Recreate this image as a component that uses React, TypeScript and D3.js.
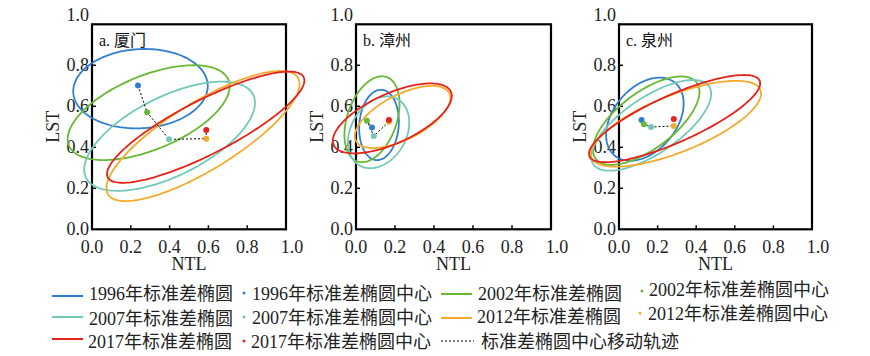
import React from "react";
import * as d3 from "d3";

const W = 870;
const H = 356;

const years = ["1996", "2002", "2007", "2012", "2017"];
const colors = ["#2f7fd0", "#68b834", "#72c9b8", "#f4aa2c", "#e5231b"];
const panelTitles = ["a. 厦门", "b. 漳州", "c. 泉州"];
const tickValues = [0, 0.2, 0.4, 0.6, 0.8, 1.0];

// mean centers [NTL, LST] per year
const xiamenCenters = [[0.237, 0.701], [0.284, 0.571], [0.397, 0.439], [0.589, 0.442], [0.589, 0.485]];
const zhangzhouCenters = [[0.082, 0.496], [0.056, 0.530], [0.091, 0.455], [0.169, 0.525], [0.169, 0.533]];
const quanzhouCenters = [[0.117, 0.533], [0.129, 0.512], [0.166, 0.499], [0.284, 0.504], [0.284, 0.538]];

// standard deviational ellipses: [cx, cy, semi-major, semi-minor, angle deg]
const xiamenEllipses = [
  [0.25, 0.686, 0.347, 0.193, 3],
  [0.292, 0.569, 0.441, 0.182, 20.8],
  [0.4, 0.454, 0.476, 0.195, 24.7],
  [0.572, 0.455, 0.566, 0.167, 29.9],
  [0.586, 0.498, 0.561, 0.133, 25.7],
];
const zhangzhouEllipses = [
  [0.118, 0.509, 0.172, 0.101, 85],
  [0.082, 0.537, 0.219, 0.126, 69.1],
  [0.116, 0.473, 0.189, 0.14, 55.8],
  [0.239, 0.548, 0.266, 0.11, 25.5],
  [0.186, 0.541, 0.3275, 0.122, 23.1],
];
const quanzhouEllipses = [
  [0.134, 0.537, 0.237, 0.159, 45.7],
  [0.141, 0.53, 0.321, 0.14, 34.6],
  [0.167, 0.507, 0.355, 0.139, 31.8],
  [0.295, 0.515, 0.468, 0.14, 20.4],
  [0.288, 0.54, 0.478, 0.116, 22.6],
];

const panels = [
  { title: panelTitles[0], centers: xiamenCenters, ellipses: xiamenEllipses, x0: 92, x1: 286 },
  { title: panelTitles[1], centers: zhangzhouCenters, ellipses: zhangzhouEllipses, x0: 356, x1: 551 },
  { title: panelTitles[2], centers: quanzhouCenters, ellipses: quanzhouEllipses, x0: 619, x1: 812 },
];

const Y0 = 229.3;
const Y1 = 24.3;
const SERIF = "'Liberation Serif', 'Times New Roman', 'Noto Sans CJK SC', serif";

function ellipsePoints(e: number[]) {
  const [cx, cy, a, b, deg] = e;
  const th = (deg * Math.PI) / 180;
  return d3.range(0, 180).map((i) => {
    const t = (i / 180) * 2 * Math.PI;
    const ex = a * Math.cos(t);
    const ey = b * Math.sin(t);
    return [cx + ex * Math.cos(th) - ey * Math.sin(th), cy + ex * Math.sin(th) + ey * Math.cos(th)];
  });
}

function Panel({ p }: { p: any }) {
  const xs = d3.scaleLinear().domain([0, 1]).range([p.x0, p.x1]);
  const ys = d3.scaleLinear().domain([0, 1]).range([Y0, Y1]);
  const line = d3
    .line<number[]>()
    .x((d) => xs(d[0]))
    .y((d) => ys(d[1]))
    .curve(d3.curveLinearClosed);
  const traj = d3
    .line<number[]>()
    .x((d) => xs(d[0]))
    .y((d) => ys(d[1]));
  return (
    <g>
      {tickValues.map((v) => (
        <text
          key={"xl" + v}
          x={xs(v) + (v === 1 ? 6 : 0)}
          y={253}
          textAnchor="middle"
          fontSize={18}
          fontFamily={SERIF}
          fill="#222"
        >
          {v.toFixed(1)}
        </text>
      ))}
      {tickValues.map((v) => (
        <text
          key={"yl" + v}
          x={p.x0 - 3}
          y={ys(v) + 6 - (v === 1 ? 9 : 0)}
          textAnchor="end"
          fontSize={18}
          fontFamily={SERIF}
          fill="#222"
        >
          {v.toFixed(1)}
        </text>
      ))}
      {tickValues.slice(1, 5).map((v) => (
        <g key={"t" + v}>
          <line x1={xs(v)} x2={xs(v)} y1={Y0} y2={Y0 - 4} stroke="#000" strokeWidth={1.5} />
          <line x1={p.x0} x2={p.x0 + 4} y1={ys(v)} y2={ys(v)} stroke="#000" strokeWidth={1.5} />
        </g>
      ))}
      <rect x={p.x0} y={Y1} width={p.x1 - p.x0} height={Y0 - Y1} fill="none" stroke="#000" strokeWidth={2.2} />
      <text x={p.x0 + 7} y={46} fontSize={16} fontFamily={SERIF} fill="#111">
        {p.title}
      </text>
      <text x={(p.x0 + p.x1) / 2} y={270} textAnchor="middle" fontSize={18} fontFamily={SERIF} fill="#222">
        NTL
      </text>
      <text
        transform={`translate(${p.x0 - 33},${(Y0 + Y1) / 2}) rotate(-90)`}
        textAnchor="middle"
        fontSize={18}
        fontFamily={SERIF}
        fill="#222"
      >
        LST
      </text>
      {p.ellipses.map((e: number[], i: number) => (
        <path key={"e" + i} d={line(ellipsePoints(e)) || ""} fill="none" stroke={colors[i]} strokeWidth={1.8} />
      ))}
      <path d={traj(p.centers) || ""} fill="none" stroke="#000" strokeWidth={1} strokeDasharray="2,2" />
      {p.centers.map((c: number[], i: number) => (
        <circle key={"c" + i} cx={xs(c[0])} cy={ys(c[1])} r={3} fill={colors[i]} />
      ))}
    </g>
  );
}

const legendItems = [
  { kind: "line", ci: 0, label: "1996年标准差椭圆", lx: 52, tx: 89, y: 296, ty: 300 },
  { kind: "dot", ci: 0, label: "1996年标准差椭圆中心", lx: 244, tx: 252, y: 293, ty: 300 },
  { kind: "line", ci: 1, label: "2002年标准差椭圆", lx: 441, tx: 478, y: 294, ty: 300 },
  { kind: "dot", ci: 1, label: "2002年标准差椭圆中心", lx: 642, tx: 649, y: 291, ty: 296 },
  { kind: "line", ci: 2, label: "2007年标准差椭圆", lx: 52, tx: 89, y: 317, ty: 325 },
  { kind: "dot", ci: 2, label: "2007年标准差椭圆中心", lx: 244, tx: 252, y: 317, ty: 324 },
  { kind: "line", ci: 3, label: "2012年标准差椭圆", lx: 441, tx: 477, y: 318, ty: 323 },
  { kind: "dot", ci: 3, label: "2012年标准差椭圆中心", lx: 640, tx: 648, y: 313, ty: 320 },
  { kind: "line", ci: 4, label: "2017年标准差椭圆", lx: 52, tx: 88, y: 339, ty: 348 },
  { kind: "dot", ci: 4, label: "2017年标准差椭圆中心", lx: 244, tx: 251, y: 341, ty: 348 },
  { kind: "dash", ci: -1, label: "标准差椭圆中心移动轨迹", lx: 441, tx: 481, y: 341, ty: 348 },
];

export default function App() {
  return (
    <svg
      width={W}
      height={H}
      viewBox={`0 0 ${W} ${H}`}
      style={{ position: "absolute", left: 0, top: 0, background: "#fff" }}
    >
      <rect width={W} height={H} fill="#fff" />
      {panels.map((p, i) => (
        <Panel key={i} p={p} />
      ))}
      {legendItems.map((it, i) => (
        <g key={"lg" + i}>
          {it.kind === "line" && (
            <line x1={it.lx} x2={it.lx + 31} y1={it.y} y2={it.y} stroke={colors[it.ci]} strokeWidth={2} />
          )}
          {it.kind === "dash" && (
            <line x1={it.lx} x2={it.lx + 33} y1={it.y} y2={it.y} stroke="#000" strokeWidth={1} strokeDasharray="2,2" />
          )}
          {it.kind === "dot" && <circle cx={it.lx} cy={it.y} r={1.5} fill={colors[it.ci]} />}
          <text x={it.tx} y={it.ty} fontSize={18} fontFamily={SERIF} fill="#222">
            {years.length ? it.label : ""}
          </text>
        </g>
      ))}
    </svg>
  );
}
